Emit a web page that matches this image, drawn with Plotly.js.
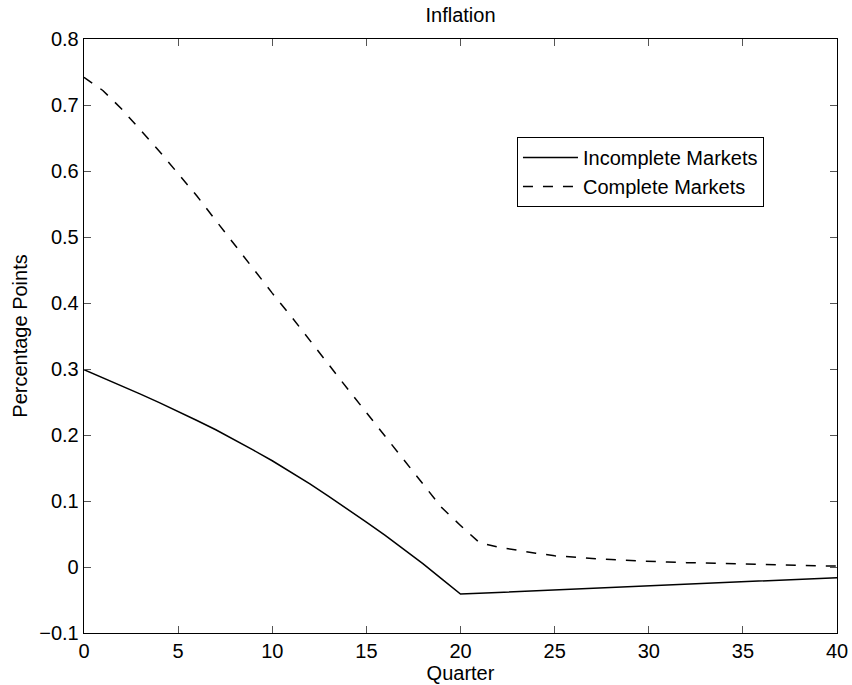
<!DOCTYPE html>
<html>
<head>
<meta charset="utf-8">
<script src="https://cdn.plot.ly/plotly-3.0.1.min.js"></script>
<style>html,body{margin:0;padding:0;background:#fff;}#chart{width:852px;height:685px;}</style>
</head>
<body>
<div id="chart"></div>
<script>
var quarters = [0,1,2,3,4,5,6,7,8,9,10,11,12,13,14,15,16,17,18,19,20,21,22,23,24,25,26,27,28,29,30,31,32,33,34,35,36,37,38,39,40];
var incompleteMarkets = [0.299,0.287,0.275,0.262,0.249,0.236,0.222,0.208,0.193,0.177,0.161,0.144,0.126,0.107,0.088,0.068,0.048,0.027,0.005,-0.018,-0.041,
  -0.0398,-0.0386,-0.0373,-0.0361,-0.0348,-0.0336,-0.0323,-0.0311,-0.0298,-0.0286,-0.0273,-0.0261,-0.0248,-0.0236,-0.0223,-0.0211,-0.0198,-0.0186,-0.0174,-0.0162];
var completeMarkets = [0.742,0.722,0.694,0.662,0.630,0.596,0.562,0.525,0.488,0.451,0.415,0.380,0.343,0.306,0.270,0.234,0.198,0.162,0.126,0.090,0.063,
  0.037,0.030,0.025,0.021,0.017,0.0146,0.0128,0.0112,0.0097,0.0083,0.0074,0.0066,0.0058,0.0050,0.0043,0.0036,0.0030,0.0024,0.0018,0.0013];
var xTicks = [0,5,10,15,20,25,30,35,40];
var yTicks = [-0.1,0,0.1,0.2,0.3,0.4,0.5,0.6,0.7,0.8];
var yTickLabels = ['\u22120.1','0','0.1','0.2','0.3','0.4','0.5','0.6','0.7','0.8'];

var fontFam = 'Liberation Sans, Arial, Helvetica, sans-serif';
var fs = 20;
var traces = [
  {x: quarters, y: incompleteMarkets, type: 'scatter', mode: 'lines', name: 'Incomplete Markets',
   line: {color: '#000', width: 1.5}},
  {x: quarters, y: completeMarkets, type: 'scatter', mode: 'lines', name: 'Complete Markets',
   line: {color: '#000', width: 1.5, dash: '10px,10px'}}
];
var axisCommon = {
  showline: true, linecolor: '#000', linewidth: 1.3, mirror: 'ticks',
  ticks: 'inside', ticklen: 7, tickcolor: '#555', tickwidth: 1,
  showgrid: false, zeroline: false, tickfont: {family: fontFam, size: fs, color: '#000'}
};
var layout = {
  width: 852, height: 685,
  margin: {l: 84, r: 15, t: 39, b: 52},
  paper_bgcolor: '#fff', plot_bgcolor: '#fff',
  font: {family: fontFam, size: fs, color: '#000'},
  title: {text: 'Inflation', x: 0.5, xref: 'paper', y: 1, yref: 'container', yanchor: 'top', pad: {t: 8},
          font: {family: fontFam, size: fs, color: '#000'}},
  xaxis: Object.assign({}, axisCommon, {range: [0, 40], tickvals: xTicks, ticktext: xTicks.map(String),
    title: {text: 'Quarter', standoff: 0, font: {family: fontFam, size: fs, color: '#000'}}}),
  yaxis: Object.assign({}, axisCommon, {range: [-0.1, 0.8], tickvals: yTicks, ticktext: yTickLabels,
    title: {text: 'Percentage Points', standoff: 6, font: {family: fontFam, size: fs, color: '#000'}}}),
  showlegend: true,
  legend: {x: 0.575, y: 0.835, xanchor: 'left', yanchor: 'top', bgcolor: '#fff',
    bordercolor: '#000', borderwidth: 1, itemwidth: 55, tracegroupgap: 0,
    entrywidth: 259, entrywidthmode: 'pixels',
    font: {family: fontFam, size: fs, color: '#000'}}
};
Plotly.newPlot('chart', traces, layout, {displayModeBar: false, staticPlot: true});
</script>
</body>
</html>
